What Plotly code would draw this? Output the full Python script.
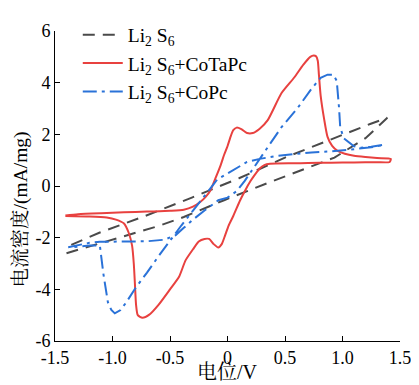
import plotly.graph_objects as go

# Li2S6 (black dashed) - open loop: lower branch left->right, then upper branch right->left
li2s6_v = [-1.40, -1.00, -0.60, -0.38, -0.03, 0.37, 0.60, 0.93, 1.20, 1.39,
           1.24, 0.985, 0.50, 0.10, -0.31, -0.74, -1.11, -1.385]
li2s6_i = [-2.60, -2.08, -1.55, -1.20, -0.55, 0.15, 0.55, 1.10, 1.85, 2.64,
           2.40, 1.95, 1.10, 0.30, -0.45, -1.20, -1.80, -2.33]

# Li2S6 + CoTaPc (red solid)
cotapc_v = [-1.41, -1.30, -1.10, -0.90, -0.70, -0.50, -0.38, -0.30, -0.235, -0.19, -0.15, -0.10,
            -0.06, -0.03, 0.00, 0.03, 0.05, 0.08, 0.12, 0.17, 0.22, 0.28, 0.35, 0.47, 0.58,
            0.66, 0.72, 0.75, 0.77, 0.785, 0.795, 0.81, 0.84, 0.87, 0.91, 0.957, 1.02, 1.10,
            1.20, 1.30, 1.42,
            1.41, 1.30, 1.10, 0.90, 0.70, 0.57, 0.37, 0.32, 0.28, 0.24, 0.20, 0.15, 0.11,
            0.05, 0.01, -0.02, -0.05, -0.08, -0.12, -0.16, -0.20, -0.25, -0.30, -0.365,
            -0.42, -0.50, -0.60, -0.68, -0.74, -0.78, -0.795, -0.805, -0.815, -0.83, -0.86,
            -0.90, -0.97, -1.05, -1.20, -1.41]
cotapc_i = [-1.14, -1.09, -1.05, -1.02, -0.99, -0.96, -0.92, -0.80, -0.61, -0.42, -0.18, 0.35,
            0.80, 1.20, 1.54, 1.95, 2.16, 2.26, 2.20, 2.05, 2.05, 2.22, 2.55, 3.60, 4.20,
            4.70, 5.00, 5.05, 5.02, 4.85, 4.30, 3.50, 2.60, 1.90, 1.55, 1.36, 1.25, 1.17,
            1.12, 1.08, 1.05,
            0.93, 0.92, 0.91, 0.90, 0.89, 0.88, 0.86, 0.81, 0.68, 0.45, 0.19, -0.20, -0.55,
            -1.16, -1.53, -1.90, -2.25, -2.38, -2.25, -2.05, -2.05, -2.15, -2.45, -2.88,
            -3.50, -4.00, -4.60, -4.98, -5.10, -5.00, -4.60, -3.80, -3.00, -2.30, -1.80,
            -1.45, -1.30, -1.22, -1.18, -1.16]

# Li2S6 + CoPc (blue dash-dot)
copc_v = [-1.385, -1.30, -1.20, -1.11, -0.90, -0.70, -0.55, -0.45, -0.38, -0.30, -0.20,
          -0.08, 0.00, 0.08, 0.15, 0.30, 0.47, 0.61, 0.73, 0.81, 0.87, 0.92, 0.95, 0.97,
          0.98, 1.01, 1.10, 1.16, 1.25, 1.36,
          1.35, 1.25, 1.15, 1.05, 0.957, 0.73, 0.44, 0.28, 0.17, 0.08, 0.00, -0.05, -0.09,
          -0.12, -0.21, -0.30, -0.40, -0.50, -0.60, -0.70, -0.80, -0.88, -0.93, -0.98,
          -1.01, -1.04, -1.08, -1.11, -1.20, -1.30, -1.385]
copc_i = [-2.37, -2.28, -2.20, -2.16, -2.15, -2.14, -2.08, -1.90, -1.62, -1.30, -0.95,
          -0.55, -0.45, -0.20, 0.20, 1.17, 2.28, 3.02, 3.76, 4.19, 4.31, 4.31, 4.07, 3.02,
          2.28, 1.85, 1.54, 1.48, 1.52, 1.60,
          1.58, 1.50, 1.44, 1.40, 1.36, 1.30, 1.17, 1.05, 0.93, 0.70, 0.50, 0.38, 0.25,
          0.07, -0.42, -0.95, -1.52, -2.10, -2.72, -3.35, -3.95, -4.50, -4.80, -4.93,
          -4.80, -4.50, -3.38, -2.30, -2.30, -2.35, -2.37]

x_tickvals = [-1.5, -1.0, -0.5, 0, 0.5, 1.0, 1.5]
x_ticktext = ["-1.5", "-1.0", "-0.5", "0", "0.5", "1.0", "1.5"]
y_tickvals = [-6, -4, -2, 0, 2, 4, 6]
y_ticktext = ["-6", "-4", "-2", "0", "2", "4", "6"]

names = ["Li<sub>2</sub> S<sub>6</sub>", "Li<sub>2</sub> S<sub>6</sub>+CoTaPc",
         "Li<sub>2</sub> S<sub>6</sub>+CoPc"]

FONT = "Liberation Serif, 'Noto Serif CJK SC', 'Noto Sans CJK SC', serif"

fig = go.Figure()
fig.add_trace(go.Scatter(x=li2s6_v, y=li2s6_i, mode="lines", name=names[0],
                         line=dict(color="#4a4a4a", width=2, dash="12px,8px")))
fig.add_trace(go.Scatter(x=cotapc_v, y=cotapc_i, mode="lines", name=names[1],
                         line=dict(color="#e8413f", width=2, shape="spline", smoothing=0.6)))
fig.add_trace(go.Scatter(x=copc_v, y=copc_i, mode="lines", name=names[2],
                         line=dict(color="#2a72d8", width=2, dash="14px,5px,3px,5px")))

# the page body adds an 8px margin; size the figure so the plot area lands where the reference has it
fig.update_layout(
    width=411, height=377,
    margin=dict(l=47, r=16, t=8, b=44),
    paper_bgcolor="white", plot_bgcolor="white",
    font=dict(family=FONT, size=18, color="black"),
    showlegend=True,
    legend=dict(x=0.066, y=1.05, xanchor="left", yanchor="top",
                bgcolor="rgba(0,0,0,0)", font=dict(size=19.5, family=FONT),
                tracegroupgap=0, itemwidth=40),
    xaxis=dict(range=[-1.5, 1.5], tickvals=x_tickvals, ticktext=x_ticktext,
               showline=True, linecolor="black", linewidth=1, mirror=False,
               ticks="inside", ticklen=5, tickcolor="black", showgrid=False,
               zeroline=False, tickfont=dict(size=18), ticklabeloverflow="allow"),
    yaxis=dict(range=[-6, 6], tickvals=y_tickvals, ticktext=y_ticktext,
               showline=True, linecolor="black", linewidth=1, mirror=False,
               ticks="inside", ticklen=5, tickcolor="black", showgrid=False,
               zeroline=False, tickfont=dict(size=18), ticklabeloverflow="allow"),
    annotations=[
        dict(text="电位/V", xref="paper", yref="paper", x=0.5, y=-0.1,
             xanchor="center", yanchor="middle", showarrow=False,
             font=dict(size=20, family=FONT)),
        dict(text="电流密度/(mA/mg)", xref="paper", yref="paper", x=-0.098, y=0.425,
             xanchor="center", yanchor="middle", showarrow=False, textangle=-90,
             font=dict(size=19.5, family=FONT)),
    ],
)

fig.write_html("out.html")
